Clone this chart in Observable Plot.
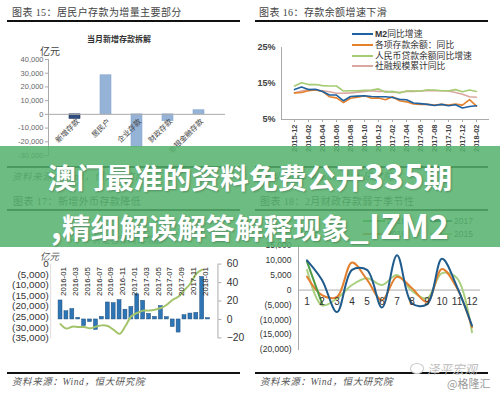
<!DOCTYPE html>
<html><head><meta charset="utf-8">
<script src="https://cdn.jsdelivr.net/npm/d3@7"></script>
<script src="https://cdn.jsdelivr.net/npm/@observablehq/plot@0.6"></script>
<style>
body{margin:0;background:#fff;}
#root{position:relative;width:500px;height:394px;overflow:hidden;background:#fff;font-family:"Liberation Serif","Noto Sans CJK SC",serif;}
.t{position:absolute;white-space:nowrap;line-height:14px;height:14px;}
.rule{position:absolute;height:2px;background:#111;}
.swatch{position:absolute;height:2px;}
#banner{position:absolute;left:0;top:146px;width:500px;height:101px;background:rgba(85,178,110,0.86);}
.bl{position:absolute;left:0;width:500px;text-align:center;color:#fff;font-family:"Noto Sans CJK SC",sans-serif;font-weight:bold;font-size:28.5px;letter-spacing:0.3px;text-shadow:1px 1px 2px rgba(0,0,0,0.25);white-space:nowrap;}
.lat{font-size:33px;}
</style></head><body><div id="root"></div>
<script>
// ---------- Chart 15: 当月新增存款拆解 ----------
const c15Categories = ["新增存款","居民户","企业存款","财政存款","非银金融存款"];
const c15Values = [-3300, 28500, -24000, -5000, 3000];
const c15Colors = ["#2f4d7e","#95b3d7","#95b3d7","#95b3d7","#95b3d7"];
const c15Ticks = [-30000,-20000,-10000,0,10000,20000,30000,40000];

// ---------- Chart 16: 存款余额增速下滑 ----------
const c16Months = ["2015-12","2016-01","2016-02","2016-03","2016-04","2016-05","2016-06","2016-07","2016-08","2016-09","2016-10","2016-11","2016-12","2017-01","2017-02","2017-03","2017-04","2017-05","2017-06","2017-07","2017-08","2017-09","2017-10","2017-11","2017-12","2018-01","2018-02"];
const c16TickLabels = ["2015-12","2016-02","2016-04","2016-06","2016-08","2016-10","2016-12","2017-02","2017-04","2017-06","2017-08","2017-10","2017-12","2018-02"];
const c16SeriesNames = ["M2同比增速","各项存款余额：同比","人民币贷款余额同比增速","社融规模累计同比"];
const c16Colors = ["#1f62a0","#e5802c","#a5cc72","#d9a7a0"];
const c16M2 = [13.3,14.0,13.3,13.4,12.8,11.8,11.8,10.2,11.4,11.5,11.6,11.4,11.3,11.3,11.1,10.6,10.5,9.6,9.4,9.2,8.9,9.2,8.8,9.1,8.2,8.6,8.8];
const c16Deposit = [12.4,12.5,13.0,13.2,12.8,11.3,11.0,9.7,10.9,11.2,11.6,10.9,11.0,10.5,11.3,10.2,9.9,9.3,9.2,9.2,9.0,9.2,9.0,9.3,9.0,10.5,8.7];
const c16Loan = [14.3,15.2,14.7,14.7,14.4,14.3,14.3,12.9,13.0,13.0,13.1,13.2,13.5,12.6,12.8,12.4,12.9,12.9,12.9,13.2,13.2,13.0,13.0,13.3,12.7,13.2,12.8];
const c16TSF = [12.4,12.9,13.3,13.2,13.0,12.7,12.3,12.3,12.4,12.6,12.8,13.0,12.8,12.8,12.6,12.5,12.8,12.8,12.9,13.1,13.0,13.0,12.9,12.5,12.0,11.3,11.2];
const c16YTicks = [5,15,25];

// ---------- Chart 17: 新增外币存款降低 ----------
const c17Months = ["2016-01","2016-02","2016-03","2016-04","2016-05","2016-06","2016-07","2016-08","2016-09","2016-10","2016-11","2016-12","2017-01","2017-02","2017-03","2017-04","2017-05","2017-06","2017-07","2017-08","2017-09","2017-10","2017-11","2017-12","2018-01","2018-02"];
const c17TickLabels = ["2016-01","2016-03","2016-05","2016-07","2016-09","2016-11","2017-01","2017-03","2017-05","2017-07","2017-09","2017-11","2018-01"];
// bars (read against the right-hand scale)
const c17Bars = [20.6,8.9,11.3,1.8,-7.1,-2.8,-11.3,2.8,18.4,17.7,20.9,10.6,13.5,27.3,20.2,6.0,2.8,14.5,2.5,-8.2,-14.2,4.6,6.4,7.1,46.1,1.4];
// 外汇占款同比增加 (right-hand scale), 2016-01 .. 2018-01
const c17Line = [-5.0,-9.9,-7.8,-8.2,-8.2,-9.6,-7.8,-6.4,-7.1,-11.3,-15.6,-7.1,3.5,7.1,9.6,9.6,10.6,12.4,16.0,21.3,24.8,31.9,39.0,49.6,53.9];
const c17LeftTicks = [0,-5000,-10000,-15000,-20000,-25000,-30000,-35000];
const c17RightTicks = [60,40,20,0,-20];

// ---------- Chart 18: 2月财政存款弱于季节性 ----------
const c18Months = [1,2,3,4,5,6,7,8,9,10,11,12];
const c18SeriesNames = ["2018","2017","2016","2015"];
const c18Colors = ["#4f9a45","#1f5b8c","#e3802f","#a9d07f"];
const c18_2018 = [9600,-4500];
const c18_2017 = [10000,3400,-7400,6800,6800,-5900,11700,-4500,-4800,10500,1100,-12000];
const c18_2016 = [4500,-1700,-2300,9300,3500,-3400,4500,600,-4000,7100,600,-12500];
const c18_2015 = [6800,-5100,-2800,1700,4000,1700,5100,-300,-2800,5700,4000,-14200];
const c18YTicks = [-20000,-15000,-10000,-5000,0,5000,10000,15000];

// ================= build =================
const root = document.getElementById("root");
function place(node, left, top, w, h, clip) {
  const d = document.createElement("div");
  d.style.cssText = `position:absolute;left:${left}px;top:${top}px;width:${w}px;height:${h}px;${clip ? "overflow:hidden;" : ""}`;
  d.appendChild(node); root.appendChild(d); return d;
}
function label(text, x, yc, css) {
  const d = document.createElement("div");
  d.className = "t";
  d.style.cssText += `left:${x}px;top:${yc - 7}px;${css || ""}`;
  d.innerHTML = text; root.appendChild(d); return d;
}
function hrule(x1, x2, y) {
  const d = document.createElement("div"); d.className = "rule";
  d.style.left = x1 + "px"; d.style.width = (x2 - x1) + "px"; d.style.top = (y - 1) + "px";
  root.appendChild(d);
}
function swatch(x1, x2, y, color, h) {
  const d = document.createElement("div"); d.className = "swatch";
  d.style.cssText += `left:${x1}px;width:${x2 - x1}px;top:${y - (h||2)/2}px;height:${h||2}px;background:${color};`;
  root.appendChild(d);
}
const fmtComma = d => Math.abs(d).toLocaleString("en-US");

// Chart 15
const c15Data = c15Categories.map((c, i) => ({cat: c, value: c15Values[i], color: c15Colors[i]}));
const chart15 = Plot.plot({
  width: 250, height: 170,
  marginLeft: 48, marginRight: 25, marginTop: 59, marginBottom: 15,
  style: {background: "transparent", fontFamily: "Liberation Sans, sans-serif", fontSize: "7.5px", color: "#666"},
  x: {domain: c15Categories, padding: 0.63, axis: null},
  y: {domain: [-30000, 40000], axis: null},
  marks: [
    Plot.barY(c15Data, {x: "cat", y: "value", fill: "color", stroke: d => d.color === "#95b3d7" ? "#8aa9cf" : "#1f3558", strokeWidth: 0.6}),
    Plot.ruleY([0], {stroke: "#aaa"}),
    Plot.frame({anchor: "left", stroke: "#aaa"}),
    Plot.axisY(c15Ticks, {anchor: "left", label: null, tickSize: 3, tickPadding: 2, tickFormat: d => (d < 0 ? "-" : "") + fmtComma(d), stroke: "#aaa", fill: "#666", fontSize: 7.5}),
    Plot.text(c15Data, {x: "cat", y: d => 0, text: "cat", rotate: -45, textAnchor: "end", dx: 3, dy: 6, fontSize: 7.5, fill: "#444", fontFamily: "Noto Sans CJK SC"})
  ]
});
place(chart15, 0, 0, 250, 170);

// Chart 16
const c16Series = [c16M2, c16Deposit, c16Loan, c16TSF];
const c16Data = [];
[3, 2, 1, 0].forEach(s => c16Months.forEach((m, i) => c16Data.push({month: m, value: c16Series[s][i], series: c16SeriesNames[s]})));
const chart16 = Plot.plot({
  width: 250, height: 155,
  marginLeft: 31, marginRight: 12, marginTop: 47, marginBottom: 36,
  insetLeft: 7, insetRight: 7,
  style: {background: "transparent", fontFamily: "Liberation Sans, sans-serif", fontSize: "8px", color: "#444"},
  x: {type: "point", domain: c16Months, padding: 0, axis: null},
  y: {domain: [5, 25], axis: null},
  color: {domain: c16SeriesNames, range: c16Colors},
  marks: [
    Plot.frame({anchor: "left", stroke: "#aaa"}),
    Plot.frame({anchor: "bottom", stroke: "#aaa"}),
    Plot.axisY(c16YTicks, {anchor: "left", label: null, tickSize: 0, tickPadding: 6, tickFormat: d => d + "%", fontSize: 9, fontWeight: "bold", fill: "#444"}),
    Plot.axisX(c16TickLabels, {anchor: "bottom", label: null, tickSize: 3, tickPadding: 2, tickRotate: -90, fontSize: 7.5, fontWeight: "bold", fill: "#444", stroke: "#aaa"}),
    Plot.line(c16Data, {x: "month", y: "value", z: "series", stroke: "series", strokeWidth: 1.6})
  ]
});
place(chart16, 250, 0, 250, 155);

// Chart 17
const toRight = v => 60 + v * 80 / 35000;
const fromRight = r => Math.round(((r - 60) * 35000 / 80) / 5000) * 5000;
const c17BarData = c17Months.map((m, i) => ({month: m, value: c17Bars[i]}));
const c17LineData = c17Line.map((v, i) => ({month: c17Months[i], value: v}));
const chart17 = Plot.plot({
  width: 250, height: 110,
  marginLeft: 51, marginRight: 29, marginTop: 24, marginBottom: 11,
  style: {background: "transparent", fontFamily: "Liberation Sans, sans-serif", fontSize: "10px", color: "#333"},
  x: {type: "band", domain: c17Months, padding: 0.35, axis: null},
  y: {domain: [-20, 60], axis: null},
  marks: [
    Plot.frame({anchor: "right", stroke: "#aaa"}),
    Plot.frame({anchor: "left", stroke: "#ddd"}),
    Plot.axisY(c17LeftTicks.map(toRight), {anchor: "left", label: null, tickSize: 0, tickPadding: 2, fontSize: 10, fill: "#333",
      tickFormat: r => { const v = fromRight(r); return v === 0 ? "0" : "(" + fmtComma(v) + ")"; }}),
    Plot.axisY(c17RightTicks, {anchor: "right", label: null, tickSize: 3, tickPadding: 6, fontSize: 10.5, fill: "#333", stroke: "#aaa"}),
    Plot.barY(c17BarData, {x: "month", y: "value", fill: "#2e75b6", stroke: "#1f4e79", strokeWidth: 0.5}),
    Plot.line(c17LineData, {x: "month", y: "value", stroke: "#a3c46a", strokeWidth: 2, curve: "catmull-rom"}),
    Plot.text(c17TickLabels, {x: d => d, frameAnchor: "top", rotate: -90, textAnchor: "end", dy: 3, fontSize: 8, fill: "#222"})
  ]
});
place(chart17, 0, 240, 246, 110, true);

// Chart 18
const c18Series = [c18_2018, c18_2017, c18_2016, c18_2015];
const c18Data = [];
[3, 2, 0, 1].forEach(s => c18Series[s].forEach((v, i) => c18Data.push({month: c18Months[i], value: v, series: c18SeriesNames[s]})));
const chart18 = Plot.plot({
  width: 250, height: 130,
  marginLeft: 48, marginRight: 20, marginTop: 15, marginBottom: 11,
  style: {background: "transparent", fontFamily: "Liberation Sans, sans-serif", fontSize: "8.5px", color: "#333"},
  x: {type: "band", domain: c18Months, padding: 0, axis: null},
  y: {domain: [-20000, 15000], axis: null},
  color: {domain: c18SeriesNames, range: c18Colors},
  marks: [
    Plot.frame({anchor: "left", stroke: "#aaa"}),
    Plot.ruleY([0], {stroke: "#aaa"}),
    Plot.axisY(c18YTicks, {anchor: "left", label: null, tickSize: 0, tickPadding: 7, fontSize: 8.5, fill: "#333",
      tickFormat: d => d < 0 ? "(" + fmtComma(d) + ")" : fmtComma(d)}),
    Plot.line(c18Data, {x: "month", y: "value", z: "series", stroke: "series", strokeWidth: 2, curve: "catmull-rom"}),
    Plot.text(c18Months, {x: d => d, y: d => 0, dy: 12, fontSize: 10, fill: "#333"})
  ]
});
place(chart18, 250, 230, 250, 130);

// ---------- HTML texts ----------
const titleCss = "font-size:10px;color:#444;letter-spacing:0.4px;font-family:'Liberation Serif','Noto Sans CJK SC',serif;";
label("图表 15：居民户存款为增量主要部分", 12, 13, titleCss);
label("图表 16：存款余额增速下滑", 259, 13, titleCss);
label("图表 17：新增外币存款降低", 13, 202, titleCss);
label("图表 18：2月财政存款弱于季节性", 260, 202, titleCss);
hrule(7, 240, 21); hrule(255, 488, 21);
hrule(7, 240, 167); hrule(255, 488, 167);
hrule(7, 240, 210); hrule(255, 488, 210);
hrule(7, 240, 373); hrule(255, 488, 373);

const srcCss = "font-size:9.5px;color:#555;font-style:italic;letter-spacing:0.6px;font-family:'Liberation Serif','Noto Sans CJK SC',serif;";
label("资料来源：Wind，恒大研究院", 12, 177, srcCss);
label("资料来源：Wind，恒大研究院", 260, 177, srcCss);
label("资料来源：Wind，恒大研究院", 12, 382, srcCss);
label("资料来源：Wind，恒大研究院", 260, 382, srcCss);

// chart 15 captions
label("当月新增存款拆解", 87, 39, "font-size:8px;font-weight:bold;color:#333;font-family:'Noto Sans CJK SC',sans-serif;");
label("亿元", 40, 51, "font-size:10px;color:#444;font-family:'Noto Sans CJK SC',sans-serif;");

// chart 16 legend
const c16LegendY = [34, 44.7, 55.7, 66];
c16SeriesNames.forEach((n, i) => {
  swatch(352, 373, c16LegendY[i], c16Colors[i], i === 0 ? 2.2 : 1.8);
  label(i === 0 ? "<b style='font-family:Liberation Sans'>M2</b>同比增速" : n, 375, c16LegendY[i], "font-size:8.8px;color:#333;font-family:'Liberation Serif','Noto Sans CJK SC',serif;");
});

// chart 17 legend + unit
swatch(71, 92, 240, "#a3c46a", 2);
label("外汇占款同比增加", 93, 240, "font-size:8.7px;color:#777;font-family:'Noto Sans CJK SC',sans-serif;");
label("亿元", 40, 256, "font-size:9.5px;color:#555;font-style:italic;font-family:'Noto Sans CJK SC',sans-serif;");

// chart 18 legend + unit
const c18Leg = [[363, 221], [430, 221], [363, 234], [430, 234]];
c18SeriesNames.forEach((n, i) => {
  swatch(c18Leg[i][0], c18Leg[i][0] + 22, c18Leg[i][1], c18Colors[i], 2);
  label(n, c18Leg[i][0] + 24, c18Leg[i][1], "font-size:8.5px;color:#444;font-family:'Liberation Sans',sans-serif;");
});
label("亿元", 300, 234, "font-size:9px;color:#666;font-family:'Noto Sans CJK SC',sans-serif;");

// watermark
const icon = document.createElement("div");
icon.style.cssText = "position:absolute;left:410px;top:363px;width:12px;height:9px;border:1.2px solid #c8c8c8;border-radius:50%;background:#fff;";
root.appendChild(icon);
label("泽平宏观", 427, 369, "font-size:12.5px;color:#bdbdbd;font-style:italic;font-family:'Noto Sans CJK SC',sans-serif;");
label("@格隆汇", 447, 383, "font-size:11px;color:#9a9a9a;font-family:'Noto Sans CJK SC',sans-serif;");

// banner
const banner = document.createElement("div"); banner.id = "banner"; root.appendChild(banner);
const l1 = document.createElement("div"); l1.className = "bl";
l1.style.top = "157px"; l1.style.lineHeight = "36px";
l1.innerHTML = "澳门最准的资料免费公开<span class='lat'>335</span>期";
root.appendChild(l1);
const l2 = document.createElement("div"); l2.className = "bl";
l2.style.top = "207px"; l2.style.lineHeight = "36px";
l2.innerHTML = "<span class='lat'>,</span>精细解读解答解释现象<span class='lat'>_IZM2</span>";
root.appendChild(l2);
</script>
</body></html>
